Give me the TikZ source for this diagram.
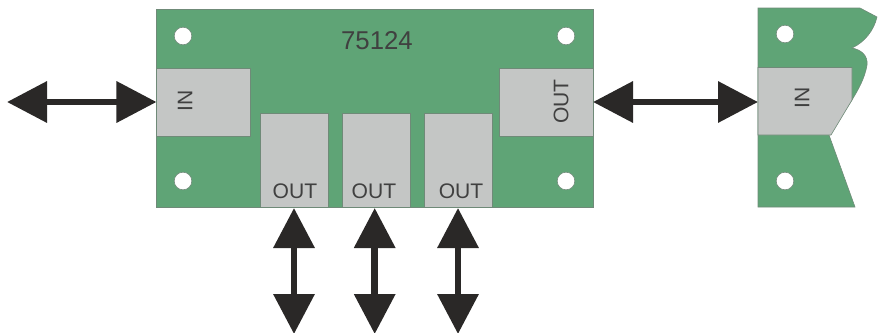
\documentclass[tikz,border=0pt]{standalone}
\usepackage{fontspec}
\setmainfont{Liberation Sans}
\usetikzlibrary{arrows.meta}
\definecolor{boardgreen}{HTML}{5FA476}
\definecolor{portgray}{HTML}{C4C6C5}
\definecolor{edgegray}{HTML}{6F8A78}
\definecolor{arrowblack}{HTML}{2A2827}
\tikzset{
  board/.style={draw=edgegray,fill=boardgreen,line width=0.5pt},
  portbox/.style={draw=edgegray,fill=portgray,line width=0.5pt,inner sep=0pt,outer sep=0pt},
  hole/.style={circle,draw=edgegray,fill=white,line width=0.5pt,minimum size=0.53cm,inner sep=0pt},
  portlabel/.style={font=\fontsize{18}{18}\selectfont,text=black!75,inner sep=0pt},
  bigarrow/.style={draw=arrowblack,line width=0.2cm,{Triangle[length=1.2cm,width=1.2cm]}-{Triangle[length=1.2cm,width=1.2cm]}}
}
\begin{document}
\begin{tikzpicture}[x=0.03cm,y=-0.03cm]
    \useasboundingbox (0,0) rectangle (878,332);
    % Main board
    \node[board,inner sep=0pt,outer sep=0pt,minimum width=13.11cm,minimum height=5.94cm] (mainboard) at (374.5,108.5) {};
    \node[portlabel,font=\fontsize{22}{22}\selectfont] (boardname) at (377,41) {75124};
    % Mounting holes
    \foreach \x/\y/\name in {183/36/a,183/181/b,566/36/c,566/181/d} {
      \node[hole] (hole\name) at (\x,\y) {};
    }
    % Ports on the main board
    \node[portbox,minimum width=2.82cm,minimum height=2.04cm] (inport) at (203.5,102) {};
    \node[portbox,minimum width=2.82cm,minimum height=2.04cm] (outport) at (546,102) {};
    \node[portlabel,rotate=90] (inlabel) at (185,100.5) {IN};
    \node[portlabel,rotate=90] (outlabel) at (561,101.5) {OUT};
    \foreach \x/\lx/\name in {294/295/a,376/374/b,458/461/c} {
      \node[portbox,minimum width=2.04cm,minimum height=2.82cm] (port\name) at (\x,160.5) {};
      \node[portlabel] (label\name) at (\lx,191.5) {OUT};
    }
    % Next board, cut off on the right
    \draw[board] (758,8) -- (860,8) -- (877,17)
      .. controls (874,30) and (865,42) .. (852,48)
      .. controls (862,50) and (868,56) .. (867,65)
      .. controls (865,78) and (858,90) .. (852,100)
      -- (829,135) -- (855,207) -- (758,207) -- cycle;
    \node[hole] (holee) at (785,34) {};
    \node[hole] (holef) at (785,181) {};
    \draw[portbox] (758,67.5) -- (852,67.5) -- (852,100) -- (831,135) -- (758,135) -- cycle;
    \coordinate (nextin) at (758,102);
    \node[portlabel,rotate=90] (nextlabel) at (802,97.5) {IN};
    % Arrows
    \coordinate (leftend) at (7,102);
    \draw[bigarrow] (leftend) -- (inport.west);
    \draw[bigarrow] (outport.east) -- (nextin);
    \foreach \x/\name in {294/a,374.7/b,458/c} {
      \coordinate (start\name) at (\x,208);
      \coordinate (end\name) at (\x,334);
      \draw[bigarrow] (start\name) -- (end\name);
    }
  \end{tikzpicture}
\end{document}
